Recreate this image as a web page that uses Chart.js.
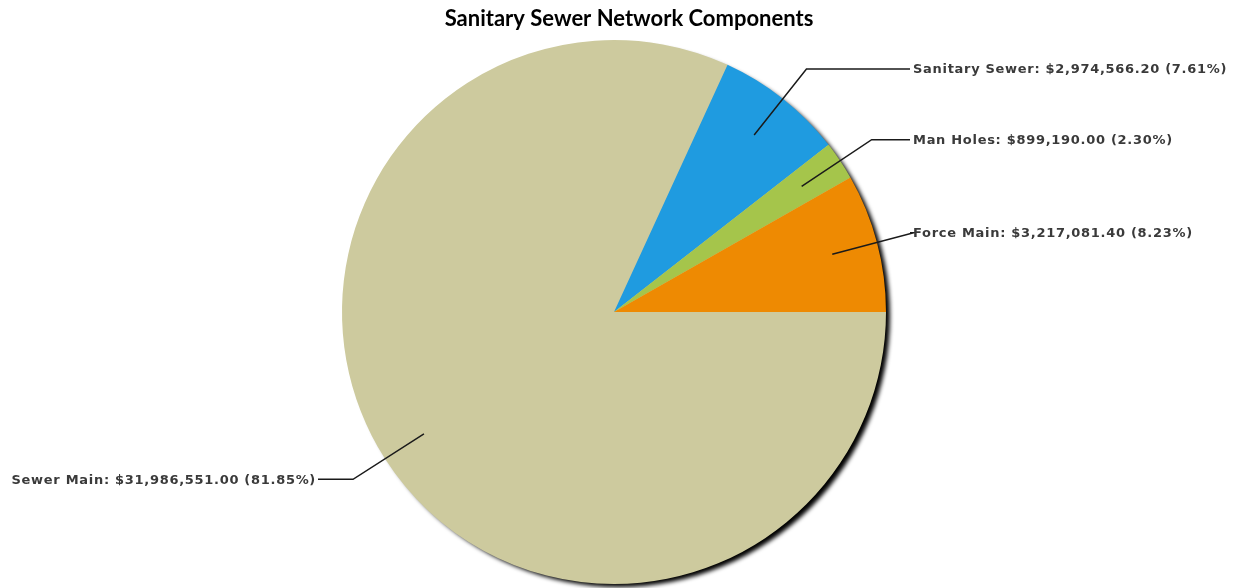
<!DOCTYPE html>
<html>
<head>
<meta charset="utf-8">
<script src="https://cdn.jsdelivr.net/npm/chart.js@4/dist/chart.umd.min.js"></script>
<style>
  html, body { margin: 0; padding: 0; background: #ffffff; }
  #wrap { width: 1241px; height: 588px; }
</style>
</head>
<body>
<div id="wrap"><canvas id="sewerPie"></canvas></div>
<script>
// data (clockwise from 3 o'clock)
const labels = ['Sewer Main', 'Sanitary Sewer', 'Man Holes', 'Force Main'];
const costs = [31986551.00, 2974566.20, 899190.00, 3217081.40];
const sliceColors = ['#cdca9e', '#1f9be0', '#a5c54b', '#ee8a02'];
const chartTitle = 'Sanitary Sewer Network Components';

const total = costs.reduce((a, b) => a + b, 0);

function fmtMoney(v) {
    return '$' + v.toLocaleString('en-US', { minimumFractionDigits: 2, maximumFractionDigits: 2 });
}

// drop shadow behind the pie
const pieShadow = {
    id: 'pieShadow',
    beforeDatasetsDraw(chart) {
        const arc = chart.getDatasetMeta(0).data[0];
        if (!arc) return;
        const ctx = chart.ctx;
        ctx.save();
        ctx.shadowColor = 'rgba(0,0,0,1)';
        ctx.shadowBlur = 4;
        ctx.shadowOffsetX = 5;
        ctx.shadowOffsetY = 4;
        ctx.fillStyle = sliceColors[0];
        ctx.beginPath();
        ctx.arc(arc.x, arc.y, arc.outerRadius - 1, 0, Math.PI * 2);
        ctx.fill();
        ctx.restore();
    }
};

// title, a little right of the pie centre like the original
const titleText = {
    id: 'titleText',
    afterDraw(chart) {
        const ctx = chart.ctx;
        ctx.save();
        ctx.font = 'bold 22px Lato, "Open Sans", sans-serif';
        ctx.fillStyle = '#000000';
        ctx.textAlign = 'center';
        ctx.textBaseline = 'alphabetic';
        ctx.fillText(chartTitle, 629, 26);
        ctx.restore();
    }
};

// labels with leader lines
const leaderLabels = {
    id: 'leaderLabels',
    afterDatasetsDraw(chart) {
        const ctx = chart.ctx;
        const meta = chart.getDatasetMeta(0);
        ctx.save();
        ctx.font = 'bold 13px "DejaVu Sans", Verdana, sans-serif';
        ctx.letterSpacing = '0.7px';
        ctx.textBaseline = 'middle';
        ctx.lineWidth = 1.5;
        ctx.strokeStyle = '#1a1a1a';
        ctx.fillStyle = '#3a3a3a';
        meta.data.forEach((arc, i) => {
            const mid = (arc.startAngle + arc.endAngle) / 2;
            const R = arc.outerRadius;
            const cx = arc.x, cy = arc.y;
            const x1 = cx + Math.cos(mid) * R * 0.83;
            const y1 = cy + Math.sin(mid) * R * 0.83;
            const x2 = cx + Math.cos(mid) * (R + 38);
            const y2 = cy + Math.sin(mid) * (R + 38);
            const right = Math.cos(mid) >= 0;
            const x3 = right ? cx + R + 24 : cx - R - 24;
            ctx.beginPath();
            ctx.moveTo(x1, y1);
            ctx.lineTo(x2, y2);
            ctx.lineTo(x3, y2);
            ctx.stroke();
            const pct = (costs[i] / total * 100).toFixed(2);
            const txt = labels[i] + ': ' + fmtMoney(costs[i]) + ' (' + pct + '%)';
            ctx.textAlign = right ? 'left' : 'right';
            ctx.fillText(txt, right ? x3 + 3 : x3 - 2, y2 + 1);
        });
        ctx.restore();
    }
};

const pieCtx = document.getElementById('sewerPie').getContext('2d');
new Chart(pieCtx, {
    type: 'pie',
    data: {
        labels: labels,
        datasets: [{
            data: costs,
            backgroundColor: sliceColors,
            borderWidth: 0
        }]
    },
    options: {
        responsive: true,
        maintainAspectRatio: false,
        animation: false,
        rotation: 90,
        layout: { padding: { top: 40, bottom: 4, left: 0, right: 13 } },
        plugins: {
            legend: { display: false },
            tooltip: { enabled: false },
            title: { display: false }
        }
    },
    plugins: [pieShadow, leaderLabels, titleText]
});
</script>
</body>
</html>
